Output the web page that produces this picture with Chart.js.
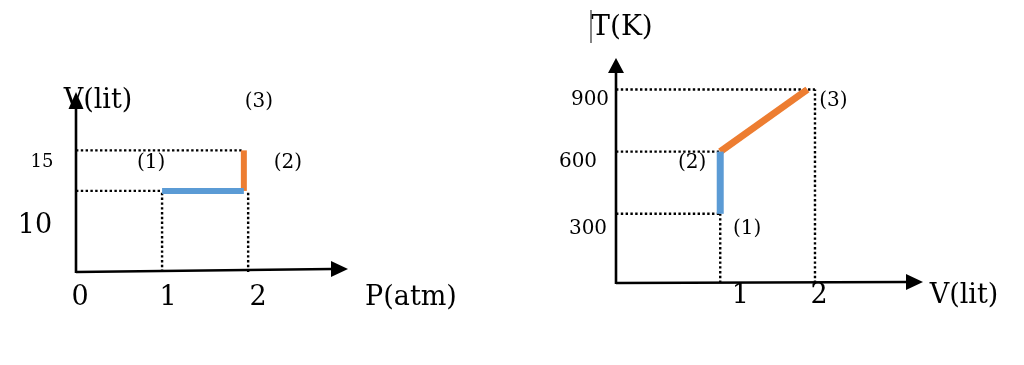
<!DOCTYPE html>
<html><head><meta charset="utf-8">
<script src="https://cdn.jsdelivr.net/npm/chart.js@4.4.1/dist/chart.umd.min.js"></script>
<style>
html,body{margin:0;padding:0;background:#fff;width:1024px;height:365px;overflow:hidden}
.box{position:absolute;top:0;width:512px;height:365px}
#b1{left:0}#b2{left:512px}
</style></head><body>
<div class="box" id="b1"><canvas id="c1" width="512" height="365"></canvas></div>
<div class="box" id="b2"><canvas id="c2" width="512" height="365"></canvas></div>
<script>
// ---- Left diagram: V (lit) versus P (atm)
const pvStates = ['(1)', '(2)', '(3)'];
const pvPressure = [1, 1.95, 1.95];
const pvVolume = [10, 10, 15];
const pvTicksP = ['0', '1', '2'];
const pvTickValuesP = [0, 1, 2];
const pvTicksV = ['10', '15'];
const pvTickValuesV = [10, 15];
const pvAxisTitles = ['P(atm)', 'V(lit)'];

// ---- Right diagram: T (K) versus V (lit)
const tvStates = ['(1)', '(2)', '(3)'];
const tvVolume = [1, 1, 1.92];
const tvTemp = [300, 600, 900];
const tvTicksV = ['1', '2'];
const tvTickValuesV = [1, 2];
const tvTicksT = ['300', '600', '900'];
const tvTickValuesT = [300, 600, 900];
const tvAxisTitles = ['V(lit)', 'T(K)'];

const BLUE = '#5B9BD5', ORANGE = '#ED7D31';
const FONT = "'DejaVu Serif', serif";

function seg(xs, ys, i, j) { return [{x: xs[i], y: ys[i]}, {x: xs[j], y: ys[j]}]; }
function lineDs(data, color, w) {
  return {data, showLine: true, borderColor: color, borderWidth: w, pointRadius: 0,
          borderCapStyle: 'butt', clip: false, tension: 0};
}
function dotDs(data) {
  return {data, showLine: true, borderColor: '#000', borderWidth: 2.4, borderDash: [2.4, 2.4],
          pointRadius: 0, clip: false, tension: 0};
}

function diagramPlugin(cfg) {
  return {
    id: 'diagram',
    afterDatasetsDraw(chart) {
      const ctx = chart.ctx, xs = chart.scales.x, ys = chart.scales.y;
      const ax = xs.getPixelForValue(xs.min), ay = ys.getPixelForValue(ys.min);
      const xr = xs.getPixelForValue(xs.max), yt = ys.getPixelForValue(ys.max);
      ctx.save();
      ctx.strokeStyle = '#000'; ctx.fillStyle = '#000'; ctx.lineWidth = 2.6;
      // x axis
      ctx.beginPath(); ctx.moveTo(ax, ay); ctx.lineTo(xr - cfg.arrowX[0] + 1, ay - cfg.tilt); ctx.stroke();
      ctx.beginPath(); ctx.moveTo(xr, ay - cfg.tilt);
      ctx.lineTo(xr - cfg.arrowX[0], ay - cfg.tilt - cfg.arrowX[1]);
      ctx.lineTo(xr - cfg.arrowX[0], ay - cfg.tilt + cfg.arrowX[1]); ctx.closePath(); ctx.fill();
      // y axis
      ctx.beginPath(); ctx.moveTo(ax, ay + 1); ctx.lineTo(ax, yt + cfg.arrowY[0] - 1); ctx.stroke();
      ctx.beginPath(); ctx.moveTo(ax, yt);
      ctx.lineTo(ax - cfg.arrowY[1], yt + cfg.arrowY[0]);
      ctx.lineTo(ax + cfg.arrowY[1], yt + cfg.arrowY[0]); ctx.closePath(); ctx.fill();
      ctx.textAlign = 'center'; ctx.textBaseline = 'middle';
      const txt = (s, x, y, size) => { ctx.font = size + 'px ' + FONT; ctx.fillText(s, x, y); };
      cfg.xTicks.forEach((t, i) => txt(t, xs.getPixelForValue(cfg.xTickValues[i]) + cfg.xTickOff[i][0], ay + cfg.xTickOff[i][1], cfg.xTickSize[i]));
      cfg.yTicks.forEach((t, i) => txt(t, ax + cfg.yTickOff[i][0], ys.getPixelForValue(cfg.yTickValues[i]) + cfg.yTickOff[i][1], cfg.yTickSize[i]));
      cfg.states.forEach((t, i) => txt(t, xs.getPixelForValue(cfg.sx[i]) + cfg.stateOff[i][0], ys.getPixelForValue(cfg.sy[i]) + cfg.stateOff[i][1], cfg.stateSize));
      txt(cfg.titles[0], xr + cfg.xTitleOff[0], ay + cfg.xTitleOff[1], cfg.titleSize);
      txt(cfg.titles[1], ax + cfg.yTitleOff[0], yt + cfg.yTitleOff[1], cfg.yTitleSize);
      if (cfg.cursor) {
        ctx.lineWidth = 1.2; ctx.strokeStyle = '#333';
        ctx.beginPath(); ctx.moveTo(ax + cfg.cursor[0], yt + cfg.cursor[1]); ctx.lineTo(ax + cfg.cursor[0], yt + cfg.cursor[2]); ctx.stroke();
      }
      ctx.restore();
    }
  };
}

function baseOptions(xmin, xmax, ymin, ymax, pad) {
  return {
    responsive: false, animation: false, devicePixelRatio: 1,
    layout: {padding: pad},
    plugins: {legend: {display: false}, tooltip: {enabled: false}},
    scales: {
      x: {type: 'linear', display: false, min: xmin, max: xmax},
      y: {type: 'linear', display: false, min: ymin, max: ymax}
    }
  };
}

// ---- Left chart
const pvMinP = 0, pvMinV = 0;
new Chart(document.getElementById('c1'), {
  type: 'scatter',
  data: {datasets: [
    lineDs(seg(pvPressure, pvVolume, 0, 1), BLUE, 6),
    lineDs(seg(pvPressure, pvVolume, 1, 2), ORANGE, 6),
    dotDs([{x: pvMinP, y: pvTickValuesV[1]}, {x: pvPressure[2], y: pvTickValuesV[1]}]),
    dotDs([{x: pvMinP, y: pvTickValuesV[0]}, {x: pvTickValuesP[1], y: pvTickValuesV[0]}]),
    dotDs([{x: pvTickValuesP[1], y: pvMinV}, {x: pvTickValuesP[1], y: pvTickValuesV[0]}]),
    dotDs([{x: pvTickValuesP[2], y: pvMinV}, {x: pvTickValuesP[2], y: pvTickValuesV[0]}])
  ]},
  options: baseOptions(pvMinP, 3.16, pvMinV, 22.2, {left: 76, right: 164, top: 92, bottom: 93}),
  plugins: [diagramPlugin({
    tilt: 3, arrowX: [17, 8], arrowY: [17, 7.5],
    xTicks: pvTicksP, xTickValues: pvTickValuesP,
    xTickOff: [[4, 26], [6, 26], [10, 26]], xTickSize: [27, 27, 27],
    yTicks: pvTicksV, yTickValues: pvTickValuesV,
    yTickOff: [[-41, 35], [-34, 12]], yTickSize: [27, 18],
    states: pvStates, sx: pvPressure, sy: pvVolume,
    stateOff: [[-11, -28], [44, -28], [15, -49]], stateSize: 20,
    titles: pvAxisTitles, xTitleOff: [63, 26], yTitleOff: [22, 9], titleSize: 27, yTitleSize: 27
  })]
});

// ---- Right chart
const tvMinV = -0.1, tvMinT = -34;
new Chart(document.getElementById('c2'), {
  type: 'scatter',
  data: {datasets: [
    lineDs(seg(tvVolume, tvTemp, 0, 1), BLUE, 7),
    lineDs(seg(tvVolume, tvTemp, 1, 2), ORANGE, 7),
    dotDs([{x: tvMinV, y: tvTickValuesT[2]}, {x: tvTickValuesV[1], y: tvTickValuesT[2]}]),
    dotDs([{x: tvTickValuesV[1], y: tvMinT}, {x: tvTickValuesV[1], y: tvTickValuesT[2]}]),
    dotDs([{x: tvMinV, y: tvTickValuesT[1]}, {x: tvTickValuesV[0], y: tvTickValuesT[1]}]),
    dotDs([{x: tvMinV, y: tvTickValuesT[0]}, {x: tvTickValuesV[0], y: tvTickValuesT[0]}]),
    dotDs([{x: tvTickValuesV[0], y: tvMinT}, {x: tvTickValuesV[0], y: tvTickValuesT[0]}])
  ]},
  options: baseOptions(tvMinV, 3.14, tvMinT, 1052, {left: 104, right: 101, top: 58, bottom: 82}),
  plugins: [diagramPlugin({
    tilt: 1, arrowX: [17, 8], arrowY: [15, 8],
    xTicks: tvTicksV, xTickValues: tvTickValuesV,
    xTickOff: [[20, 13], [4, 13]], xTickSize: [27, 27],
    yTicks: tvTicksT, yTickValues: tvTickValuesT,
    yTickOff: [[-28, 15], [-38, 10], [-26, 10]], yTickSize: [20, 20, 20],
    states: tvStates, sx: tvVolume, sy: tvTemp,
    stateOff: [[27, 15], [-28, 11], [26, 11]], stateSize: 20,
    titles: tvAxisTitles, xTitleOff: [41, 13], yTitleOff: [6, -30], titleSize: 27, yTitleSize: 28,
    cursor: [-25, -48, -15]
  })]
});
</script>
</body></html>
